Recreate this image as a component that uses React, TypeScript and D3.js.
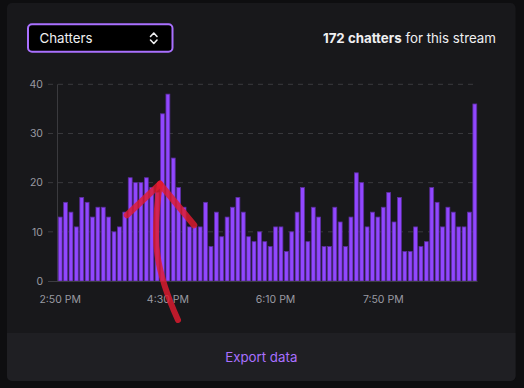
import React from "react";
import * as d3 from "d3";

// chatters per 5-minute bucket
const chatters = [
  13, 16, 14, 11, 17, 16, 13, 15, 15, 13,
  10, 11, 14, 21, 20, 20, 21, 19, 18, 34,
  38, 25, 19, 15, 11, 11, 11, 16, 7, 14,
  9, 13, 15, 17, 14, 9, 8, 10, 8, 7,
  11, 11, 6, 10, 14, 19, 8, 15, 13, 7,
  7, 15, 12, 7, 13, 22, 20, 11, 14, 13,
  15, 18, 12, 17, 6, 6, 11, 7, 8, 19,
  16, 11, 15, 14, 11, 11, 14, 36,
];
const startTime = new Date(2024, 0, 1, 14, 50);
const bucketMinutes = 5;
const fmt = d3.timeFormat("%-I:%M %p");
const times = chatters.map((_, i) => fmt(d3.timeMinute.offset(startTime, i * bucketMinutes)));
const xTickLabels = ["2:50 PM", "4:30 PM", "6:10 PM", "7:50 PM"];
const yTicks = [0, 10, 20, 30, 40];
const totalChatters = 172;

const W = 524;
const H = 388;
const FONT = "Inter, 'Noto Sans', sans-serif";

export default function App() {
  const plotLeft = 57.5;
  const plotRight = 477.5;
  const plotTop = 84.3;
  const plotBottom = 281;

  const x = d3
    .scaleBand<string>()
    .domain(times)
    .range([plotLeft, plotRight])
    .paddingInner(0.28)
    .paddingOuter(0.14);

  const y = d3.scaleLinear().domain([0, 40]).range([plotBottom, plotTop]);

  return (
    <div style={{ position: "fixed", left: 0, top: 0, width: W, height: H }}>
      <svg width={W} height={H} style={{ display: "block", fontFamily: FONT }}>
        <rect width={W} height={H} fill="#0e0e10" />
        {/* card */}
        <rect x={7} y={3} width={508.5} height={378} rx={5} fill="#18181b" />
        <path d="M7,333 H515.5 V376 a5,5 0 0 1 -5,5 H12 a5,5 0 0 1 -5,-5 Z" fill="#1f1f23" />

        {/* dropdown */}
        <rect x={28} y={24.3} width={144.5} height={27.5} rx={4} fill="#000" stroke="#a970ff" strokeWidth={2} />
        <text x={39.5} y={43.3} fontSize={13.3} fill="#efeff1">Chatters</text>
        <path d="M150.5,36.5 L153.8,33 L157,36.5 M150.5,40 L153.8,43.5 L157,40" fill="none" stroke="#efeff1" strokeWidth={1.6} strokeLinecap="round" strokeLinejoin="round" />

        <text x={496} y={43.3} fontSize={13.3} fill="#efeff1" textAnchor="end">
          <tspan fontWeight={700}>{totalChatters} chatters</tspan>
          <tspan> for this stream</tspan>
        </text>

        {/* grid + y axis */}
        {yTicks.map((t) => (
          <g key={t}>
            {t > 0 && (
              <line x1={48} x2={plotRight - 4} y1={y(t)} y2={y(t)} stroke="#3a3a3e" strokeDasharray="5 5" />
            )}
            <text x={43} y={y(t)} dy="0.35em" fontSize={10.5} fill="#9a9aa2" textAnchor="end">{t}</text>
          </g>
        ))}
        <line x1={plotLeft} x2={plotLeft} y1={plotTop} y2={plotBottom} stroke="#3a3a3e" />

        {/* bars */}
        {chatters.map((v, i) => (
          <rect
            key={i}
            x={x(times[i])}
            y={y(v)}
            width={x.bandwidth()}
            height={plotBottom - y(v)}
            fill="#9147ff"
            stroke="#5b2d9f"
            strokeWidth={0.8}
          />
        ))}
        <line x1={48} x2={plotRight} y1={plotBottom + 0.5} y2={plotBottom + 0.5} stroke="#3d3d42" />

        {/* x axis labels */}
        {xTickLabels.map((lbl) => (
          <text key={lbl} x={(x(lbl) ?? 0) + x.bandwidth() / 2} y={303} fontSize={10.5} fill="#9a9aa2" textAnchor="middle">
            {lbl}
          </text>
        ))}

        {/* hand-drawn annotation arrow */}
        <g stroke="#e01b2f" strokeOpacity={0.82} fill="none" strokeLinecap="round">
          <path d="M178,320 C168,298 156,266 156,236 C156,212 158,196 160,184" strokeWidth={6} />
          <path d="M160,184 L127,215" strokeWidth={6.5} />
          <path d="M160,184 L194,225" strokeWidth={6.5} />
        </g>

        <text x={261.3} y={362.3} fontSize={13.3} fill="#a970ff" textAnchor="middle">Export data</text>
      </svg>
    </div>
  );
}
